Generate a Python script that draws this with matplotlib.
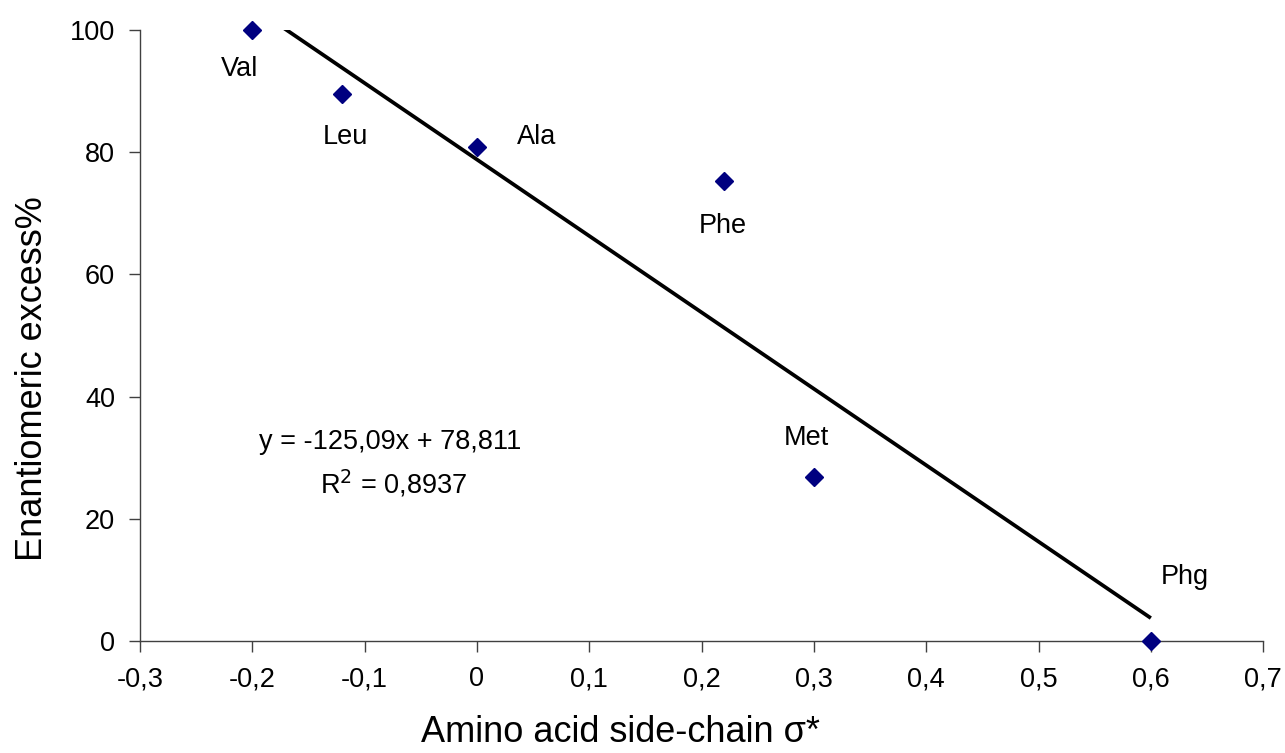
import numpy as np
from matplotlib import pyplot as plt

plt.rcParams['font.family'] = ['Liberation Sans', 'DejaVu Sans']

# amino acids, their side-chain sigma* and ee%
amino_acids = ["Val", "Leu", "Ala", "Phe", "Met", "Phg"]
sigma_star = [-0.2, -0.12, 0.0, 0.22, 0.3, 0.6]
ee_percent = [100.0, 89.5, 80.8, 75.3, 26.8, 0.0]

# where the names sit (data coords)
label_x = [-0.211, -0.1175, 0.053, 0.219, 0.293, 0.630]
label_y = [93.6, 82.5, 82.5, 67.9, 33.2, 10.5]

# linear trend from the chart
slope = -125.09
intercept = 78.811
r_squared = 0.8937

x_ticks = [-0.3, -0.2, -0.1, 0.0, 0.1, 0.2, 0.3, 0.4, 0.5, 0.6, 0.7]
y_ticks = [0, 20, 40, 60, 80, 100]

TEXT_SIZE = 19.5
TITLE_SIZE = 26


def comma(v):
    s = f"{v:g}"
    if s == "-0":
        s = "0"
    return s.replace(".", ",")


fig = plt.figure(figsize=(12.85, 7.53), dpi=100)
ax = fig.add_axes([0.109, 0.1487, 0.874, 0.8113])

xs = np.array([min(sigma_star), max(sigma_star)])
ax.plot(xs, slope * xs + intercept, color="black", linewidth=2.7,
        solid_capstyle="butt", zorder=2)
ax.plot(sigma_star, ee_percent, linestyle="none", marker="D",
        markersize=9, color="#000080", clip_on=False, zorder=3)

for name, lx, ly in zip(amino_acids, label_x, label_y):
    ax.text(lx, ly, name, ha="center", va="center", fontsize=TEXT_SIZE)

ax.text(-0.0775, 32.6, f"y = {comma(slope)}x + {comma(intercept)}",
        ha="center", va="center", fontsize=TEXT_SIZE)
ax.text(-0.074, 25.7, f"R$^2$ = {comma(r_squared)}",
        ha="center", va="center", fontsize=TEXT_SIZE)

ax.set_xlim(-0.3, 0.7)
ax.set_ylim(0, 100)
ax.set_xticks(x_ticks)
ax.set_xticklabels([comma(round(t, 1)) for t in x_ticks])
ax.set_yticks(y_ticks)
ax.set_yticklabels([str(t) for t in y_ticks])
ax.tick_params(labelsize=TEXT_SIZE, direction="out", length=8, width=1,
               color="#404040", pad=10)
for side in ("top", "right"):
    ax.spines[side].set_visible(False)
for side in ("left", "bottom"):
    ax.spines[side].set_color("#404040")
    ax.spines[side].set_linewidth(1)

ax.set_xlabel("Amino acid side-chain σ*", fontsize=TITLE_SIZE, va="baseline")
ax.set_ylabel("Enantiomeric excess%", fontsize=TITLE_SIZE, va="baseline")
ax.xaxis.set_label_coords(0.4274, -0.166)
ax.yaxis.set_label_coords(-0.0873, 0.43)

fig.savefig("out.png", dpi=100)
